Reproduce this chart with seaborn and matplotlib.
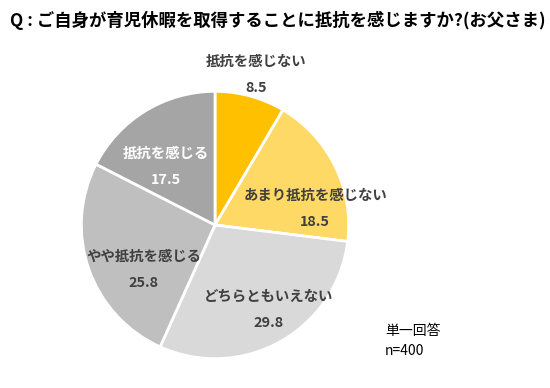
import numpy as np
import matplotlib
matplotlib.use("Agg")
import matplotlib.pyplot as plt
import seaborn as sns

sns.set_theme(style="white")
plt.rcParams['font.family'] = ['Noto Sans CJK JP', 'DejaVu Sans']

# data
categories = ["抵抗を感じない", "あまり抵抗を感じない", "どちらともいえない",
              "やや抵抗を感じる", "抵抗を感じる"]
values = [8.5, 18.5, 29.8, 25.8, 17.5]
colors = ["#FFC000", "#FFD966", "#D9D9D9", "#BFBFBF", "#A5A5A5"]
text_colors = ["#404040", "#404040", "#404040", "#404040", "#FFFFFF"]

# label placement: (radius fraction, angle offset in degrees)
label_pos = [(1.16, 0), (0.76, -17), (0.75, 3), (0.63, 13), (0.57, 9)]

fig = plt.figure(figsize=(5.5, 3.88), dpi=100)
ax = fig.add_axes([0.1455, 0.0722, 0.4909, 0.6959])

wedges, _ = ax.pie(values, colors=colors, startangle=90, counterclock=False,
                   wedgeprops=dict(edgecolor="white", linewidth=2))
ax.set_aspect("equal")
ax.set_xlim(-1.01, 1.01)
ax.set_ylim(-1.01, 1.01)
ax.axis("off")

for w, cat, val, tc, (r, dth) in zip(wedges, categories, values, text_colors, label_pos):
    ang = np.deg2rad((w.theta1 + w.theta2) / 2 + dth)
    x, y = r * np.cos(ang), r * np.sin(ang)
    ax.text(x, y + 0.097, cat, ha="center", va="center", fontsize=10.4,
            fontweight="bold", color=tc)
    ax.text(x, y - 0.097, f"{val:.1f}", ha="center", va="center", fontsize=10.4,
            fontweight="bold", color=tc)

fig.text(0.018, 0.947, "Q : ご自身が育児休暇を取得することに抵抗を感じますか?(お父さま)",
         fontsize=12.5, fontweight="bold", color="#000000", va="center")
fig.text(0.70, 0.121, "単一回答\nn=400", fontsize=10, color="#000000",
         va="center", linespacing=1.5)

fig.savefig("out.png", dpi=100)
